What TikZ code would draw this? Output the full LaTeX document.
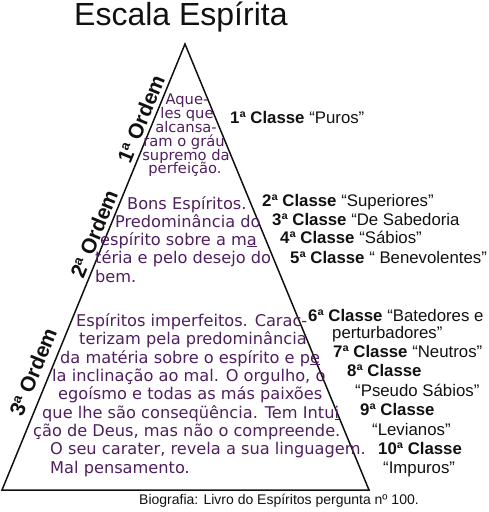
\documentclass[tikz,border=0pt]{standalone}
\usepackage{fontspec}
\setmainfont{Liberation Sans}
\newfontfamily\escalafonte{DejaVu Sans}
\usetikzlibrary{calc}
\definecolor{escalaInk}{HTML}{111111}
\definecolor{escalaRoxo}{HTML}{4F1F5F}

\begin{document}
\begin{tikzpicture}[
    x=1pt, y=-1pt,
    escala borda/.style={draw=escalaInk, line width=1.5pt, line join=miter},
    escala titulo/.style={text=escalaInk, font=\fontsize{32}{36}\selectfont, inner sep=0pt, anchor=base west},
    escala ordem/.style={text=escalaInk, font=\fontsize{21}{24}\selectfont\bfseries, inner sep=0pt, rotate=67.7},
    escala classe/.style={text=escalaInk, font=\fontsize{16.8}{19}\selectfont, inner sep=0pt, anchor=base west},
    escala texto/.style={text=escalaRoxo, font=\escalafonte\fontsize{16.2}{18}\selectfont, inner sep=0pt, anchor=base west},
    escala topo/.style={text=escalaRoxo, font=\escalafonte\fontsize{14.7}{14}\selectfont, inner sep=0pt, anchor=base},
    escala nota/.style={text=escalaInk, font=\fontsize{14}{16}\selectfont, inner sep=0pt, anchor=base},
]
  \useasboundingbox (0,0) rectangle (488,512);

  % Vértices da pirâmide.
  \coordinate (p-topo) at (185,44);
  \coordinate (p-esq) at (2,490);
  \coordinate (p-dir) at (369,490);

  % Pirâmide.
  \draw[escala borda] (p-topo) -- (p-dir) -- (p-esq) -- cycle;

  % Título.
  \node[escala titulo] (titulo) at (74,25) {Escala Espírita};

  % Ordens.
  \node[escala ordem] (ordem-1) at (141,119) {1ª Ordem};
  \node[escala ordem] (ordem-2) at (94,234) {2ª Ordem};
  \node[escala ordem] (ordem-3) at (33,372) {3ª Ordem};

  % Primeira ordem.
  \node[escala topo] (t1-l1) at (187,104) {Aque-};
  \node[escala topo] (t1-l2) at (187,118) {les que};
  \node[escala topo] (t1-l3) at (186,132) {alcansa-};
  \node[escala topo] (t1-l4) at (184,146) {ram o gráu};
  \node[escala topo] (t1-l5) at (186,160) {supremo da};
  \node[escala topo] (t1-l6) at (185,173) {perfeição.};

  % Segunda ordem.
  \node[escala texto] (t2-l1) at (127,209) {Bons Espíritos.};
  \node[escala texto] (t2-l2) at (115,227) {Predominância do};
  \node[escala texto] (t2-l3) at (100,245) {espírito sobre a m\underline{a}};
  \node[escala texto] (t2-l4) at (95,263) {téria e pelo desejo do};
  \node[escala texto] (t2-l5) at (95,282) {bem.};

  % Terceira ordem.
  \node[escala texto] (t3-l1) at (76,326) {Espíritos imperfeitos. Carac-};
  \node[escala texto] (t3-l2) at (79,344) {terizam pela predominância};
  \node[escala texto] (t3-l3) at (60,363) {da matéria sobre o espírito e p\underline{e}};
  \node[escala texto] (t3-l4) at (52,381) {la inclinação ao mal. O orgulho, o};
  \node[escala texto] (t3-l5) at (58,399) {egoísmo e todas as más paixões};
  \node[escala texto] (t3-l6) at (42,418) {que lhe são conseqüência. Tem Intu\underline{i}};
  \node[escala texto] (t3-l7) at (33,436) {ção de Deus, mas não o compreende.};
  \node[escala texto] (t3-l8) at (50,454) {O seu carater, revela a sua linguagem.};
  \node[escala texto] (t3-l9) at (50,473) {Mal pensamento.};

  % Classes.
  \node[escala classe] (classe-1) at (230,123) {\textbf{1ª Classe} “Puros”};
  \node[escala classe] (classe-2) at (262,206) {\textbf{2ª Classe} “Superiores”};
  \node[escala classe] (classe-3) at (272,225) {\textbf{3ª Classe} “De Sabedoria};
  \node[escala classe] (classe-4) at (280,243) {\textbf{4ª Classe} “Sábios”};
  \node[escala classe] (classe-5) at (290,263) {\textbf{5ª Classe} “ Benevolentes”};
  \node[escala classe] (classe-6) at (308,321) {\textbf{6ª Classe} “Batedores e};
  \node[escala classe] (classe-6b) at (332,338) {perturbadores”};
  \node[escala classe] (classe-7) at (333,357) {\textbf{7ª Classe} “Neutros”};
  \node[escala classe] (classe-8) at (347,376) {\textbf{8ª Classe}};
  \node[escala classe] (classe-8b) at (355,396) {“Pseudo Sábios”};
  \node[escala classe] (classe-9) at (360,415) {\textbf{9ª Classe}};
  \node[escala classe] (classe-9b) at (372,435) {“Levianos”};
  \node[escala classe] (classe-10) at (378,454) {\textbf{10ª Classe}};
  \node[escala classe] (classe-10b) at (383,473) {“Impuros”};

  % Fonte.
  \node[escala nota] (nota) at (279,504) {Biografia: Livro do Espíritos pergunta nº 100.};
\end{tikzpicture}
\end{document}
